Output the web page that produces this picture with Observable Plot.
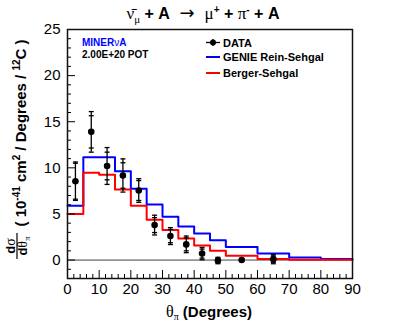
<!DOCTYPE html>
<html><head><meta charset="utf-8">
<script src="https://cdn.jsdelivr.net/npm/d3@7"></script>
<script src="https://cdn.jsdelivr.net/npm/@observablehq/plot@0.6"></script>
<style>
body{margin:0;background:#fff}
#chart{position:relative;width:407px;height:328px}
</style>
</head><body><div id="chart"></div>
<script>
// ---- data ----
const binEdges = [0, 5, 10, 15, 20, 25, 30, 35, 40, 45, 50, 60, 70, 80, 90];
const genieRS  = [5.88, 11.15, 11.15, 9.63, 7.72, 6.03, 4.70, 3.65, 2.89, 2.16, 1.41, 0.72, 0.29, 0.12];
const bergerS  = [5.00, 9.46, 9.24, 7.65, 5.88, 4.37, 3.25, 2.33, 1.57, 1.00, 0.47, 0.12, 0.03, 0.02];
const dataX    = [2.5, 7.5, 12.5, 17.5, 22.5, 27.5, 32.5, 37.5, 42.5, 47.5, 55, 65];
const dataY    = [8.55, 13.9, 10.2, 9.17, 7.54, 3.79, 2.60, 1.70, 0.70, -0.05, 0.0, 0.10];
const statErr  = [1.95, 1.75, 1.50, 1.38, 1.08, 0.81, 0.72, 0.70, 0.49, 0.25, 0.08, 0.35];
const totalErr = [2.08, 2.20, 2.00, 1.80, 1.28, 1.07, 0.92, 0.90, 0.67, 0.35, 0.12, 0.50];
const xMajor = [0, 10, 20, 30, 40, 50, 60, 70, 80, 90];
const xMinor = d3.range(0, 91, 2).filter(v => v % 10 !== 0);
const yMajor = [0, 5, 10, 15, 20, 25];
const yMinor = d3.range(-2, 26, 1).filter(v => v % 5 !== 0);

const hist = vals => binEdges.map((e, i) => ({x: e, y: vals[Math.min(i, vals.length - 1)]}));
const pts = dataX.map((x, i) => ({x, y: dataY[i], s: statErr[i], t: totalErr[i]}));
const cap = {draw(ctx, size) { const w = Math.sqrt(size / Math.PI); ctx.moveTo(-w, 0); ctx.lineTo(w, 0); }};

const FONT = "'Liberation Sans', Arial, Helvetica, sans-serif";
const plot = Plot.plot({
  width: 407, height: 328,
  marginLeft: 67, marginRight: 55, marginTop: 29, marginBottom: 50,
  style: {fontFamily: FONT, fontSize: "15px", background: "white", overflow: "visible", color: "black"},
  x: {domain: [0, 90]},
  y: {domain: [-2, 25]},
  marks: [
    Plot.ruleY([0], {stroke: "#444", strokeWidth: 1}),
    Plot.line(hist(genieRS), {x: "x", y: "y", curve: "step-after", stroke: "#0000ff", strokeWidth: 2}),
    Plot.line(hist(bergerS), {x: "x", y: "y", curve: "step-after", stroke: "#ff0000", strokeWidth: 2}),
    Plot.ruleX(pts, {x: "x", y1: d => d.y - d.t, y2: d => d.y + d.t, stroke: "black", strokeWidth: 1.3}),
    Plot.dot(pts, {x: "x", y: d => d.y - d.t, symbol: cap, r: 2.5, stroke: "black", strokeWidth: 1.3}),
    Plot.dot(pts, {x: "x", y: d => d.y + d.t, symbol: cap, r: 2.5, stroke: "black", strokeWidth: 1.3}),
    Plot.dot(pts, {x: "x", y: d => d.y - d.s, symbol: cap, r: 2.5, stroke: "black", strokeWidth: 1.3}),
    Plot.dot(pts, {x: "x", y: d => d.y + d.s, symbol: cap, r: 2.5, stroke: "black", strokeWidth: 1.3}),
    Plot.dot(pts, {x: "x", y: "y", r: 3.3, fill: "black", stroke: null}),
    Plot.axisY(yMajor, {tickSize: -8, tickPadding: 15, label: null, fontSize: 15}),
    Plot.axisY(yMinor, {tickSize: -4, tickFormat: () => "", label: null}),
    Plot.axisX(xMajor, {tickSize: -8, tickPadding: 13, label: null, fontSize: 15}),
    Plot.axisX(xMinor, {tickSize: -4, tickFormat: () => "", label: null}),
    Plot.frame({stroke: "#111", strokeWidth: 1.5})
  ]
});
document.getElementById("chart").appendChild(plot);

// ---- rich text helpers ----
const svg = d3.select(plot);
function rich(x, y, parts, {anchor = "middle", transform = null, fill = "black"} = {}) {
  const t = svg.append("text").attr("x", x).attr("y", y).attr("text-anchor", anchor)
    .attr("fill", fill).style("font-family", FONT).style("white-space", "pre");
  if (transform) t.attr("transform", transform);
  let cur = 0;
  for (const [txt, o = {}] of parts) {
    const shift = o.shift || 0;
    const ts = t.append("tspan").text(txt)
      .attr("dy", shift - cur)
      .style("font-size", (o.size || 15) + "px")
      .style("font-weight", o.bold ? "bold" : "normal");
    if (o.fill) ts.attr("fill", o.fill);
    if (o.family) ts.style("font-family", o.family);
    cur = shift;
  }
  return t;
}
const SYM = "'Liberation Serif', 'DejaVu Serif', serif";
const B = {bold: true, size: 16};
const G = {size: 17, family: SYM};

// Title
rich(203, 19, [
  ["ν\u0304", G], ["μ", {size: 11, shift: 4, family: SYM}],
  [" + A ", B], [" \u2192 ", {size: 18, family: "'DejaVu Sans', sans-serif"}], [" μ", G],
  ["+", {size: 10, shift: -6, bold: true}], [" + ", B], ["π", G],
  ["-", {size: 10, shift: -6, bold: true}], [" + A", B]
]);

// X axis title
rich(209, 317, [
  ["θ", {size: 16, family: SYM}], ["π", {size: 10, shift: 3, family: SYM}],
  [" (Degrees)", {size: 15, bold: true}]
]);

// Y axis title
rich(0, 0, [
  ["( 10", {size: 15, bold: true}], ["-41", {size: 10, shift: -6, bold: true}],
  [" cm", {size: 15, bold: true}], ["2", {size: 10, shift: -6, bold: true}],
  [" / Degrees / ", {size: 15, bold: true}], ["12", {size: 10, shift: -6, bold: true}],
  ["C )", {size: 15, bold: true}]
], {transform: "translate(25.5,133) rotate(-90)"});
// fraction dσ / dθπ
rich(0, 0, [["d", {size: 13, bold: true}], ["σ", {size: 14, family: SYM}]],
  {transform: "translate(15,246) rotate(-90)"});
rich(0, 0, [["d", {size: 13, bold: true}], ["θ", {size: 14, family: SYM}], ["π", {size: 9, shift: 3, family: SYM}]],
  {transform: "translate(26.5,246) rotate(-90)"});
svg.append("line").attr("x1", 17).attr("x2", 17).attr("y1", 233).attr("y2", 259)
  .attr("stroke", "black").attr("stroke-width", 1.2);

// Legend (left box text)
rich(82, 46, [["MINER", {size: 10, bold: true}], ["ν", {size: 10}], ["A", {size: 10, bold: true}]], {anchor: "start", fill: "#0000ff"});
rich(82, 57.5, [["2.00E+20 POT", {size: 10, bold: true}]], {anchor: "start"});

// Legend (right)
const lg = svg.append("g");
lg.append("line").attr("x1", 206).attr("x2", 220).attr("y1", 42.5).attr("y2", 42.5).attr("stroke", "black").attr("stroke-width", 1.3);
lg.append("line").attr("x1", 213).attr("x2", 213).attr("y1", 39).attr("y2", 46).attr("stroke", "black").attr("stroke-width", 1.3);
lg.append("circle").attr("cx", 213).attr("cy", 42.5).attr("r", 3).attr("fill", "black");
lg.append("line").attr("x1", 206).attr("x2", 220).attr("y1", 57).attr("y2", 57).attr("stroke", "#0000ff").attr("stroke-width", 2);
lg.append("line").attr("x1", 206).attr("x2", 220).attr("y1", 73).attr("y2", 73).attr("stroke", "#ff0000").attr("stroke-width", 2);
rich(223, 46.5, [["DATA", {size: 11, bold: true}]], {anchor: "start"});
rich(223, 61, [["GENIE Rein-Sehgal", {size: 11, bold: true}]], {anchor: "start"});
rich(223, 77, [["Berger-Sehgal", {size: 11, bold: true}]], {anchor: "start"});
</script>
</body></html>
